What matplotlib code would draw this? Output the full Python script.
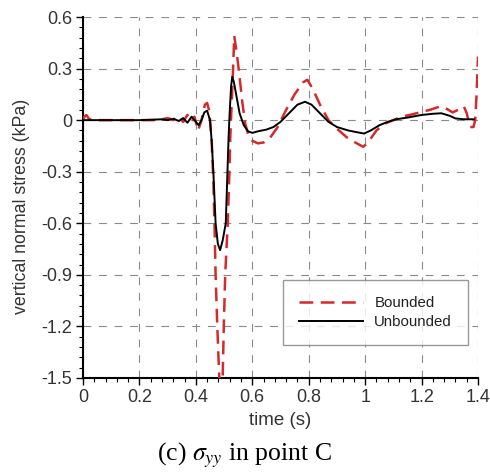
import matplotlib
matplotlib.use("Agg")
import matplotlib.pyplot as plt
from matplotlib.ticker import MultipleLocator

plt.rcParams['font.family'] = ['Liberation Sans', 'DejaVu Sans']
plt.rcParams['mathtext.fontset'] = 'stix'
plt.rcParams['axes.unicode_minus'] = False

# Unbounded (black solid)
t_unb = [0.00, 0.05, 0.10, 0.15, 0.20, 0.25, 0.28, 0.30, 0.32, 0.34, 0.355, 0.37,
         0.385, 0.40, 0.41, 0.42, 0.43, 0.44, 0.45, 0.456, 0.462, 0.47, 0.478,
         0.486, 0.495, 0.506, 0.512, 0.516, 0.52, 0.525, 0.529, 0.535, 0.545,
         0.555, 0.57, 0.585, 0.60, 0.62, 0.65, 0.675, 0.70, 0.73, 0.76, 0.787,
         0.81, 0.84, 0.87, 0.90, 0.94, 0.97, 0.996, 1.02, 1.05, 1.08, 1.11, 1.15,
         1.20, 1.24, 1.27, 1.30, 1.32, 1.35, 1.385]
v_unb = [0.0, 0.0, 0.0, 0.0, 0.0, 0.003, 0.005, 0.0, 0.008, -0.005, 0.012, -0.015,
         0.02, -0.01, -0.03, 0.0, 0.045, 0.055, 0.0, -0.12, -0.3, -0.6, -0.72,
         -0.756, -0.7, -0.6, -0.3, -0.1, 0.05, 0.2, 0.252, 0.22, 0.13,
         0.04, -0.03, -0.065, -0.074, -0.065, -0.055, -0.04, -0.01, 0.04, 0.09, 0.107,
         0.09, 0.04, -0.01, -0.04, -0.06, -0.07, -0.078, -0.06, -0.03, -0.01, 0.005, 0.015,
         0.03, 0.037, 0.04, 0.025, 0.01, 0.005, 0.005]

# Bounded (red dashed)
t_bnd = [0.0, 0.005, 0.012, 0.02, 0.03, 0.06, 0.10, 0.15, 0.20, 0.25, 0.28, 0.30,
         0.32, 0.337, 0.355, 0.37, 0.385, 0.395, 0.408, 0.42, 0.432, 0.44, 0.448,
         0.456, 0.462, 0.466, 0.47, 0.476, 0.483, 0.49, 0.495, 0.499, 0.504, 0.513,
         0.519, 0.522, 0.527, 0.532, 0.536, 0.545, 0.555, 0.565, 0.575, 0.585,
         0.60, 0.62, 0.64, 0.66, 0.69, 0.72, 0.75, 0.78, 0.795, 0.815, 0.84, 0.87,
         0.90, 0.935, 0.965, 0.993, 1.01, 1.04, 1.07, 1.10, 1.13, 1.17, 1.20, 1.23,
         1.266, 1.29, 1.31, 1.33, 1.35, 1.36, 1.372, 1.384, 1.39, 1.395, 1.40]
v_bnd = [0.0, 0.02, 0.03, 0.01, 0.0, 0.0, 0.0, 0.0, 0.0, 0.0, 0.005, 0.012,
         0.0, 0.025, -0.01, 0.03, -0.01, 0.02, -0.06, 0.0, 0.09, 0.1, 0.05,
         -0.12, -0.35, -0.6, -0.9, -1.2, -1.5, -1.6, -1.5, -1.2, -0.9, -0.6,
         -0.3, -0.1, 0.1, 0.3, 0.49, 0.39, 0.25, 0.1, -0.02, -0.08,
         -0.12, -0.135, -0.13, -0.11, -0.04, 0.06, 0.15, 0.22, 0.235, 0.18, 0.09, 0.0,
         -0.05, -0.1, -0.13, -0.155, -0.13, -0.06, -0.02, 0.0, 0.02, 0.035, 0.048, 0.06,
         0.08, 0.065, 0.045, 0.06, 0.08, 0.04, -0.04, -0.04, 0.0, 0.15, 0.37]

x_ticks = [0, 0.2, 0.4, 0.6, 0.8, 1.0, 1.2, 1.4]
x_labels = ['0', '0.2', '0.4', '0.6', '0.8', '1', '1.2', '1.4']
y_ticks = [0.6, 0.3, 0, -0.3, -0.6, -0.9, -1.2, -1.5]
y_labels = ['0.6', '0.3', '0', '-0.3', '-0.6', '-0.9', '-1.2', '-1.5']

fig = plt.figure(figsize=(4.9, 4.73), dpi=100)
ax = fig.add_axes([83/490, 1-378/473, 395/490, 361/473])

ax.plot(t_bnd, v_bnd, color='#d42a2a', lw=1.8, dashes=(5.5, 3), label='Bounded', zorder=3)
ax.plot(t_unb, v_unb, color='black', lw=1.4, label='Unbounded', zorder=4)

ax.set_xlim(0, 1.4)
ax.set_ylim(-1.5, 0.6)
ax.set_xticks(x_ticks)
ax.set_xticklabels(x_labels)
ax.set_yticks(y_ticks)
ax.set_yticklabels(y_labels)
ax.xaxis.set_minor_locator(MultipleLocator(0.04))
ax.yaxis.set_minor_locator(MultipleLocator(0.06))

ax.grid(True, which='major', color='#8a8a8a', lw=0.8, dashes=(7, 7))
for s in ['top', 'right']:
    ax.spines[s].set_visible(False)
for s in ['left', 'bottom']:
    ax.spines[s].set_linewidth(1.5)
ax.tick_params(which='major', direction='out', length=5, width=1, labelsize=13,
               labelcolor='#333333', pad=3)
ax.tick_params(which='minor', direction='out', length=3, width=0.8)

ax.set_xlabel('time (s)', fontsize=13.5, color='#333333', labelpad=4)
ax.set_ylabel('vertical normal stress (kPa)', fontsize=12.8, color='#333333')
ax.yaxis.set_label_coords(-0.135, 0.476)

leg = ax.legend(loc='upper left', bbox_to_anchor=(0.506, 0.271), borderaxespad=0,
                fontsize=10.8, handlelength=4.3, handletextpad=0.75, borderpad=1.05,
                labelspacing=0.35, fancybox=False, frameon=True)
leg.get_frame().set_edgecolor('#808080')
leg.get_frame().set_linewidth(1.0)
for txt in leg.get_texts():
    txt.set_color('#222222')

fig.text(0.5, 1-455/473, r'(c) $\sigma_{yy}$ in point C', ha='center', va='center',
         fontsize=18.5, family=['Liberation Serif', 'DejaVu Serif'])

fig.savefig('out.png', dpi=100)
